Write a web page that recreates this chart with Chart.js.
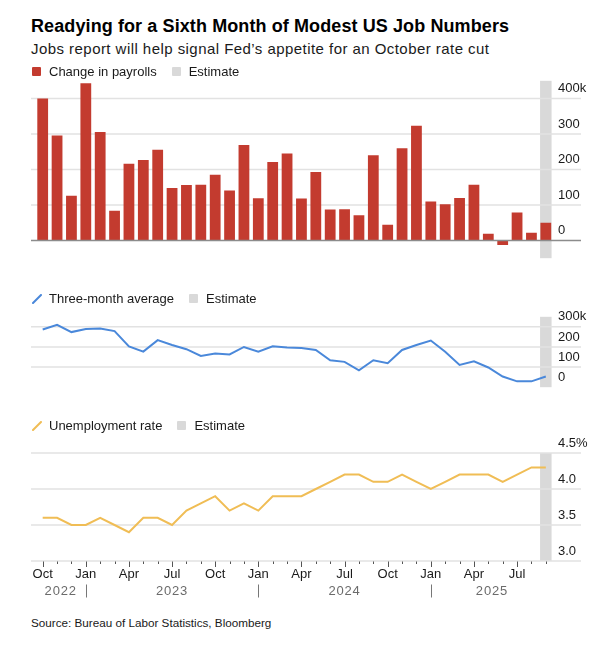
<!DOCTYPE html>
<html><head><meta charset="utf-8">
<script src="https://cdn.jsdelivr.net/npm/chart.js@4.4.1/dist/chart.umd.min.js"></script>
<style>
body{margin:0;background:#fff;font-family:"Liberation Sans",Arial,sans-serif;color:#111;}
#wrap{position:relative;width:615px;height:647px;overflow:hidden;}
.abs{position:absolute;}
#title{left:31px;top:16.8px;font-size:18px;font-weight:bold;line-height:1;color:#000;white-space:nowrap;letter-spacing:0.1px;}
#sub{left:31px;top:41.3px;font-size:15px;line-height:1;color:#1a1a1a;white-space:nowrap;letter-spacing:0.45px;}
.legend{left:32px;font-size:13px;line-height:1;display:flex;align-items:center;z-index:2;color:#1a1a1a;white-space:nowrap;}
.item{display:flex;align-items:center;margin-right:15px;}
.sw{display:inline-block;width:9px;height:9px;margin-right:8px;border-radius:1px;}
.ln{display:inline-block;width:10px;height:10px;margin-right:7px;}
canvas{position:absolute;left:0;z-index:1;}
#source{left:31px;top:616.5px;font-size:11.7px;line-height:1;color:#1a1a1a;white-space:nowrap;}
</style></head>
<body>
<div id="wrap">
  <div id="title" class="abs">Readying for a Sixth Month of Modest US Job Numbers</div>
  <div id="sub" class="abs">Jobs report will help signal Fed’s appetite for an October rate cut</div>

  <div class="abs legend" style="top:65px">
    <span class="item"><span class="sw" style="background:#c33b2f"></span>Change in payrolls</span>
    <span class="item"><span class="sw" style="background:#d9d9d9"></span>Estimate</span>
  </div>
  <canvas id="c1" width="615" height="203" style="top:68px"></canvas>

  <div class="abs legend" style="top:292px">
    <span class="item"><svg class="ln" viewBox="0 0 10 10"><line x1="1" y1="9" x2="9" y2="1" stroke="#4a88da" stroke-width="2" stroke-linecap="round"/></svg>Three-month average</span>
    <span class="item"><span class="sw" style="background:#d9d9d9"></span>Estimate</span>
  </div>
  <canvas id="c2" width="615" height="96" style="top:304px"></canvas>

  <div class="abs legend" style="top:419.4px">
    <span class="item"><svg class="ln" viewBox="0 0 10 10"><line x1="1" y1="9" x2="9" y2="1" stroke="#f0bd55" stroke-width="2" stroke-linecap="round"/></svg>Unemployment rate</span>
    <span class="item"><span class="sw" style="background:#d9d9d9"></span>Estimate</span>
  </div>
  <canvas id="c3" width="615" height="175" style="top:431px"></canvas>

  <div id="source" class="abs">Source: Bureau of Labor Statistics, Bloomberg</div>
</div>
<script>
const categories = [
  'Oct 2022','Nov 2022','Dec 2022',
  'Jan 2023','Feb 2023','Mar 2023','Apr 2023','May 2023','Jun 2023','Jul 2023','Aug 2023','Sep 2023','Oct 2023','Nov 2023','Dec 2023',
  'Jan 2024','Feb 2024','Mar 2024','Apr 2024','May 2024','Jun 2024','Jul 2024','Aug 2024','Sep 2024','Oct 2024','Nov 2024','Dec 2024',
  'Jan 2025','Feb 2025','Mar 2025','Apr 2025','May 2025','Jun 2025','Jul 2025','Aug 2025','Sep 2025'
];
// Change in nonfarm payrolls, thousands (last value = estimate)
const payrolls = [400,296,126, 443,306,84,216,227,256,148,156,157,185,141,269,
  119,221,245,118,193,87,88,71,240,44,260,323, 110,102,120,157,19,-13,79,22,50];
// Three-month average, thousands
const threeMonthAvg = [287,310,274, 289,292,279,203,177,234,210,189,155,168,163,200,
  176,203,197,195,185,134,126,84,134,119,185,210, 232,176,111,129,98,53,29,29,53];
// Unemployment rate, %
const unemployment = [3.6,3.6,3.5, 3.5,3.6,3.5,3.4,3.6,3.6,3.5,3.7,3.8,3.9,3.7,3.8,
  3.7,3.9,3.9,3.9,4.0,4.1,4.2,4.2,4.1,4.1,4.2,4.1, 4.0,4.1,4.2,4.2,4.2,4.1,4.2,4.3,4.3];

const payrollTicks = [0,100,200,300,400];
const avgTicks = [0,100,200,300];
const rateTicks = [3.0,3.5,4.0,4.5];
const quarterMonths = ['Jan','Apr','Jul','Oct'];
const years = ['2022','2023','2024','2025'];

const FONT = 'Liberation Sans';
const RED = '#c33b2f', BLUE = '#4a88da', YELLOW = '#f0bd55', BAND = '#d9d9d9', GRID = '#e2e2e2';

const decor = {
  id: 'decor',
  beforeDatasetsDraw(chart, args, opts) {
    const {ctx, chartArea: ca, scales: {x, y}} = chart;
    const step = x.getPixelForValue(1) - x.getPixelForValue(0);
    const bx = x.getPixelForValue(categories.length - 1);
    ctx.save();
    ctx.fillStyle = BAND;
    ctx.fillRect(bx - step * 0.4, ca.top, step * 0.8, ca.bottom - ca.top);
    ctx.lineWidth = 1.5;
    opts.grid.forEach(v => {
      if (opts.skip !== undefined && opts.skip === v) return;
      if (opts.baseline !== undefined && opts.baseline === v) return;
      const py = y.getPixelForValue(v);
      ctx.strokeStyle = GRID;
      ctx.beginPath(); ctx.moveTo(ca.left - 4.5, py); ctx.lineTo(ca.right + 28, py); ctx.stroke();
    });
    ctx.restore();
  },
  afterDatasetsDraw(chart, args, opts) {
    if (opts.baseline === undefined) return;
    const {ctx, chartArea: ca, scales: {y}} = chart;
    const py = y.getPixelForValue(opts.baseline);
    ctx.save();
    ctx.strokeStyle = '#8c8c8c'; ctx.lineWidth = 1.5;
    ctx.beginPath(); ctx.moveTo(ca.left - 4.5, py); ctx.lineTo(ca.right + 28, py); ctx.stroke();
    ctx.restore();
  },
  afterDraw(chart, args, opts) {
    if (!opts.timeAxis) return;
    const {ctx, chartArea: ca, scales: {x}} = chart;
    ctx.save();
    ctx.strokeStyle = '#555'; ctx.lineWidth = 1;
    categories.forEach((c, i) => {
      const px = Math.round(x.getPixelForValue(i)) + 0.5;
      const q = quarterMonths.includes(c.slice(0, 3));
      ctx.beginPath(); ctx.moveTo(px, ca.bottom + 0.5); ctx.lineTo(px, ca.bottom + (q ? 6 : 3)); ctx.stroke();
    });
    // year labels and separators
    const bounds = [ca.left];
    categories.forEach((c, i) => { if (c.startsWith('Jan')) bounds.push(x.getPixelForValue(i)); });
    bounds.push(ca.right);
    ctx.strokeStyle = '#777';
    ctx.fillStyle = '#6b6b6b';
    ctx.font = '13px "' + FONT + '"';
    ctx.letterSpacing = '0.8px';
    ctx.textAlign = 'center'; ctx.textBaseline = 'alphabetic';
    years.forEach((yr, k) => {
      const cx = (bounds[k] + bounds[k + 1]) / 2;
      ctx.fillText(yr, cx, ca.bottom + 33.6);
    });
    bounds.slice(1, -1).forEach(b => {
      const px = Math.round(b) + 0.5;
      ctx.beginPath(); ctx.moveTo(px, ca.bottom + 23.5); ctx.lineTo(px, ca.bottom + 36.5); ctx.stroke();
    });
    ctx.restore();
  }
};
Chart.register(decor);

function rightAxis(min, max, ticks, fmt) {
  return {
    position: 'right', min, max,
    afterBuildTicks: s => { s.ticks = ticks.map(v => ({value: v})); },
    afterFit: s => { s.width = 62; },
    grid: {display: false, drawTicks: false},
    border: {display: false},
    ticks: {autoSkip: false, padding: 5, labelOffset: -10, color: '#1a1a1a',
      font: {family: FONT, size: 13}, callback: fmt}
  };
}
const common = (extra) => Object.assign({
  responsive: false, animation: false,
  layout: {padding: {left: 35.5, right: 0, top: 12, bottom: 12}},
}, extra);

new Chart(document.getElementById('c1'), {
  type: 'bar',
  data: {labels: categories, datasets: [{data: payrolls, backgroundColor: RED,
    barPercentage: 0.75, categoryPercentage: 1}]},
  options: common({
    plugins: {legend: {display: false}, tooltip: {enabled: false},
      decor: {grid: payrollTicks, baseline: 0}},
    scales: {
      x: {type: 'category', display: false, offset: true},
      y: rightAxis(-50, 450, payrollTicks, v => v === 400 ? '400k' : String(v))
    }
  })
});

new Chart(document.getElementById('c2'), {
  type: 'line',
  data: {labels: categories, datasets: [{data: threeMonthAvg, borderColor: BLUE, borderWidth: 2,
    pointRadius: 0, tension: 0, fill: false}]},
  options: common({
    plugins: {legend: {display: false}, tooltip: {enabled: false},
      decor: {grid: avgTicks, skip: 0}},
    scales: {
      x: {type: 'category', display: false, offset: true},
      y: rightAxis(0, 350, avgTicks, v => v === 300 ? '300k' : String(v))
    }
  })
});

new Chart(document.getElementById('c3'), {
  type: 'line',
  data: {labels: categories, datasets: [{data: unemployment, borderColor: YELLOW, borderWidth: 2,
    pointRadius: 0, tension: 0, fill: false}]},
  options: common({
    layout: {padding: {left: 35.5, right: 0, top: 22, bottom: 0}},
    plugins: {legend: {display: false}, tooltip: {enabled: false},
      decor: {grid: rateTicks, timeAxis: true}},
    scales: {
      x: {type: 'category', offset: true,
        afterFit: s => { s.height = 45; },
        grid: {display: false, drawTicks: false}, border: {display: false},
        ticks: {autoSkip: false, maxRotation: 0, minRotation: 0, padding: 6, color: '#1a1a1a',
          font: {family: FONT, size: 13},
          callback: (v, i) => quarterMonths.includes(categories[i].slice(0, 3)) ? categories[i].slice(0, 3) : ''}
      },
      y: rightAxis(3.0, 4.5, rateTicks, v => v === 4.5 ? '4.5%' : v.toFixed(1))
    }
  })
});
</script>
</body></html>
